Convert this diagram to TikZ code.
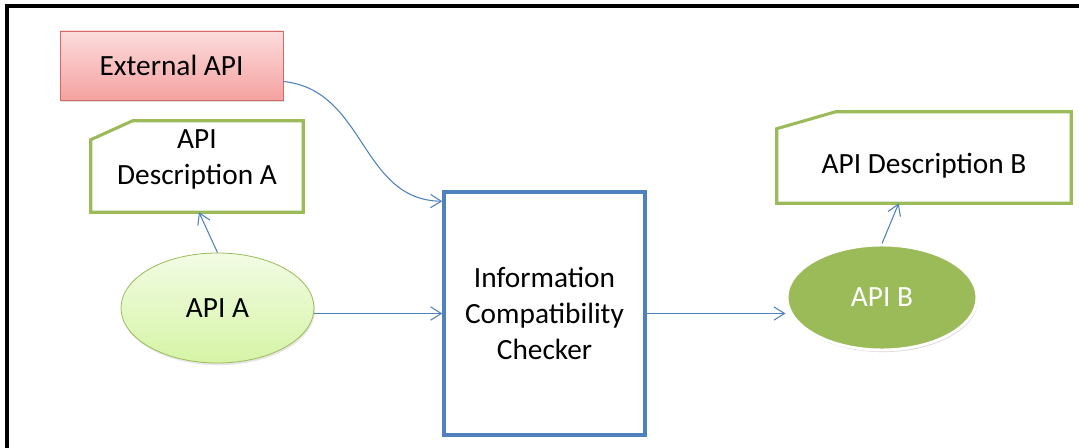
\documentclass[tikz,border=0pt]{standalone}
\usepackage{fontspec}
\setmainfont{Carlito}
\usetikzlibrary{arrows.meta,shadows,calc,shapes.geometric}
\definecolor{abl}{HTML}{4F81BD}
\definecolor{agr}{HTML}{9BBB59}
\definecolor{ared}{HTML}{D46A67}
\definecolor{pinktop}{HTML}{FCDCDC}
\definecolor{pinkbot}{HTML}{F4A2A0}
\definecolor{lgtop}{HTML}{F2FCE4}
\definecolor{lgbot}{HTML}{D6F4A6}
\begin{document}
\begin{tikzpicture}[x=0.75pt,y=-0.75pt,
  every node/.style={font=\fontsize{22}{27}\selectfont, text=black},
  arr/.style={draw=abl, line width=0.8pt, -{Straight Barb[length=8pt,width=10pt,line width=0.8pt]}},
  extbox/.style={rectangle, draw=ared, line width=0.6pt, top color=pinktop, bottom color=pinkbot,
     minimum width=223*0.75pt, minimum height=69*0.75pt, inner sep=0pt,
     drop shadow={opacity=0.25, shadow xshift=0.8pt, shadow yshift=-1.6pt}},
  descshape/.style={rectangle, minimum width=#1, minimum height=91*0.75pt, inner sep=0pt},
  descline/.style={draw=agr, line width=2.3pt, line join=miter, fill=white},
  chkbox/.style={rectangle, draw=abl, line width=2.6pt, fill=white, align=center,
     minimum width=201*0.75pt, minimum height=243*0.75pt, inner sep=0pt},
  ellA/.style={ellipse, draw=agr, line width=0.6pt, top color=lgtop, bottom color=lgbot,
     minimum width=193*0.75pt, minimum height=110*0.75pt, inner sep=0pt,
     drop shadow={opacity=0.2, shadow xshift=0.8pt, shadow yshift=-1.6pt}},
  ellB/.style={ellipse, draw=white, line width=2.2pt, fill=agr, text=white,
     minimum width=190*0.75pt, minimum height=105*0.75pt, inner sep=0pt,
     drop shadow={opacity=0.3, shadow xshift=0.8pt, shadow yshift=-1.6pt}},
  framel/.style={draw=black, line width=2.4pt}
]
\useasboundingbox (0,0) rectangle (1079,448);
% frame
\coordinate (f1) at (7,448);
\coordinate (f2) at (7,6);
\coordinate (f3) at (1079,6);
\draw[framel] (f1) -- (f2) -- (f3);

% External API
\node[extbox] (ext) at (171.5,65.5) {External API};

% API Description A
\node[descshape=212*0.75pt] (da) at (197,166.5) {};
\draw[descline] (da.south west) -- ([shift={(0,19)}]da.north west) -- ([shift={(42,0)}]da.north west)
   -- (da.north east) -- (da.south east) -- cycle;
\node[align=center] (dat) at (197,159.5) {API\\Description A};

% API Description B
\node[descshape=294*0.75pt] (db) at (924,157.5) {};
\draw[descline] (db.south west) -- ([shift={(0,17)}]db.north west) -- ([shift={(59,0)}]db.north west)
   -- (db.north east) -- (db.south east) -- cycle;
\node (dbt) at (924,166) {API Description B};

% Checker
\node[chkbox] (chk) at (544.5,313.5) {Information\\Compatibility\\Checker};

% API A and B
\node[ellA] (apia) at (217.5,308) {API A};
\node[ellB] (apib) at (882,297.5) {API B};

% connectors
\draw[arr] (chk.west -| apia.east) -- (chk.west);
\draw[arr] (chk.east) -- (chk.east -| apib.west);
\draw[arr] (apia.north) -- ([shift={(2,0)}]da.south);
\draw[arr] (apib.north) -- ([shift={(122,0)}]db.south west);
\draw[arr] ([shift={(0,16)}]ext.east) .. controls (366,90) and (360,200) .. ([shift={(0,11)}]chk.north west);
\end{tikzpicture}
\end{document}
